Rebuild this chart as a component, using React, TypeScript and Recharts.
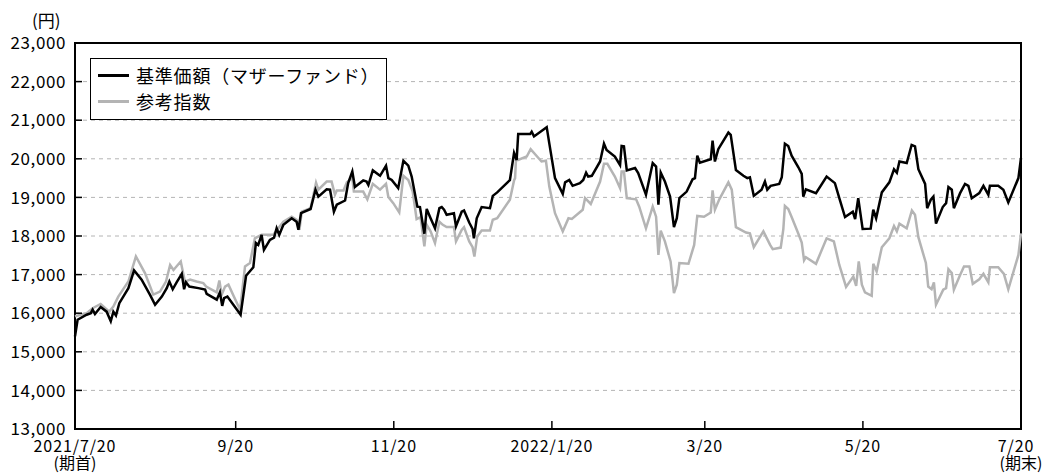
import { LineChart, Line, XAxis, YAxis, CartesianGrid, ReferenceArea } from 'recharts'

// days since 2021/7/20, values in yen
const fundDays = [0, 1, 4.5, 6.1, 6.8, 7.7, 9.9, 12.2, 13.8, 14.8, 15.8, 17.1, 20.6, 22.8, 25.7, 28.9, 30.9, 33.5, 35.4, 36.4, 37.7, 39.2, 41.2, 42.1, 42.8, 44.1, 47.6, 50.2, 50.8, 54.7, 55.9, 56.8, 57.5, 58.8, 61.1, 63.9, 66, 68.8, 69.8, 70.7, 72, 72.9, 75.2, 76.8, 77.8, 78.8, 80.4, 83.6, 85.5, 86.2, 87.2, 90.9, 92.8, 93.9, 97.1, 98.4, 99.9, 101, 104.2, 105.4, 107, 108, 111.2, 112.5, 113.2, 114.9, 117.7, 120, 120.9, 122.2, 124.7, 126.7, 128.6, 129.9, 132.1, 133.1, 134.8, 135.7, 137.2, 138.9, 140.6, 141.5, 142.4, 143.4, 146.2, 147, 149.2, 150.1, 152.1, 153.4, 153.9, 155, 156.9, 160.1, 161.2, 162.9, 167.8, 169.4, 170.4, 171, 175.6, 176.2, 177.1, 182, 183, 185.2, 188.2, 189.1, 190.7, 192, 194.8, 196.1, 197.2, 198, 199.4, 202.6, 204.1, 205.1, 208.3, 210.3, 210.9, 211.8, 212.9, 216.1, 217.3, 220.3, 222.9, 224.2, 225.1, 226, 227.6, 229.6, 231.1, 232.2, 233.2, 236, 238.3, 239.2, 240.1, 241.1, 244.3, 245.3, 246, 246.9, 248.2, 252.1, 253, 255, 257.9, 259.4, 260.4, 261.9, 264.9, 266.2, 267.1, 268.4, 271.7, 272.7, 273.9, 275.2, 276.5, 279.1, 280.4, 281, 282, 285.9, 290, 293.2, 294.9, 297.1, 300.1, 301, 302.2, 303.9, 307, 308, 309.1, 311.3, 314.2, 316, 317.1, 318.1, 320.9, 322.8, 324.1, 325.4, 328, 328.8, 330.2, 331.2, 332.2, 334.8, 336.1, 337, 338.3, 339.1, 341.5, 343.4, 344.7, 346, 348.9, 350.5, 352.4, 353, 356.2, 358.2, 360.1, 364, 365]
const fundValues = [15400, 15830, 15960, 16000, 16090, 15980, 16160, 16040, 15790, 16040, 15940, 16260, 16650, 17110, 16870, 16480, 16220, 16430, 16650, 16820, 16620, 16800, 17020, 16620, 16800, 16690, 16650, 16610, 16500, 16350, 16540, 16190, 16390, 16430, 16220, 15960, 16970, 17190, 17820, 17770, 18030, 17640, 17900, 17960, 18200, 18030, 18290, 18460, 18370, 18160, 18590, 18700, 19200, 19020, 19210, 19200, 18630, 18810, 18920, 19370, 19670, 19270, 19440, 19410, 19320, 19700, 19560, 19820, 19500, 19450, 19240, 19950, 19820, 19540, 18760, 18750, 18060, 18700, 18460, 18200, 18720, 18750, 18680, 18550, 18590, 18250, 18630, 18660, 18350, 18180, 17940, 18460, 18750, 18720, 19040, 19130, 19450, 20150, 19970, 20640, 20640, 20700, 20580, 20820, 20400, 19500, 19090, 19390, 19450, 19300, 19370, 19450, 19640, 19540, 19560, 19930, 20390, 20230, 20060, 19840, 20330, 20320, 19700, 19760, 19630, 19070, 19890, 19800, 18810, 19640, 19410, 19020, 18230, 18460, 18980, 19150, 19470, 19500, 20080, 19900, 19970, 19990, 20470, 19930, 20250, 20680, 20620, 19710, 19560, 19500, 19520, 19040, 19200, 19410, 19200, 19300, 19350, 19520, 20390, 20330, 20080, 19780, 19610, 19020, 19210, 19110, 19540, 19370, 18980, 18490, 18630, 18440, 18980, 18180, 18190, 18680, 18460, 19130, 19390, 19730, 19640, 19930, 19890, 20360, 20320, 19730, 19350, 18720, 18940, 19020, 18320, 18750, 18850, 19270, 19200, 18720, 19110, 19350, 19300, 18980, 19110, 19300, 19070, 19300, 19300, 19200, 18870, 19500, 20020]

const indexDays = [0, 4.5, 6.8, 9.9, 13.2, 14.8, 16.7, 20.6, 23.5, 27, 30.2, 32.8, 35.1, 36.7, 38, 40.8, 42.4, 44.4, 46.9, 49.5, 50.6, 54.7, 55.7, 56.6, 57.9, 59.2, 61.3, 63.7, 65.6, 67.5, 69.4, 72, 76.5, 80.4, 83.6, 85.5, 86.6, 87.5, 90.9, 93, 93.9, 97.1, 99, 100.3, 101, 103.6, 104.9, 107, 107.6, 111.2, 112.8, 114.9, 117.7, 120, 120.9, 122.8, 125.1, 126.7, 128.6, 130.3, 131.8, 133.3, 134.8, 135.7, 137.2, 138.9, 140.6, 141.9, 143.4, 146.2, 147, 149.2, 150.1, 152.1, 153.4, 154.1, 155.2, 156.9, 160.1, 161.2, 162.9, 167.8, 169.4, 169.8, 170.2, 171, 174.3, 175.8, 180, 181.7, 183, 185.2, 188.2, 190.4, 191.7, 195.9, 196.8, 199, 202.6, 204.1, 205.4, 208.3, 210.3, 210.9, 211.8, 212.9, 216.5, 217.7, 220.3, 222.9, 224.2, 225.1, 226, 227.6, 229.8, 231.1, 232.2, 233.2, 236.7, 238.9, 240.1, 242.7, 245.3, 246, 246.9, 248.6, 252.1, 253.4, 255, 258.9, 260.4, 261.9, 265.6, 268.2, 269.2, 272.3, 273.3, 273.9, 275.2, 276.5, 279.1, 280.4, 281.3, 282, 285.9, 290, 292.8, 294.9, 297.5, 300.3, 301.4, 302.4, 303.6, 304.8, 307.4, 308, 309.3, 311.3, 314.2, 316, 317.1, 318.1, 320.9, 322.9, 324.1, 325.4, 328.3, 329.2, 330.5, 331.4, 332.2, 335, 336.1, 337, 338.3, 339.1, 341.5, 343, 345.1, 346.4, 348.9, 350.5, 352.4, 353, 356.2, 358.4, 360.1, 364, 365]
const indexValues = [15920, 16000, 16130, 16240, 16040, 16170, 16430, 16820, 17470, 17040, 16480, 16560, 16820, 17250, 17120, 17340, 16820, 16870, 16820, 16780, 16690, 16540, 16850, 16480, 16690, 16740, 16430, 16090, 17210, 17300, 17940, 18030, 18030, 18370, 18500, 18420, 18160, 18630, 18720, 19380, 19200, 19410, 19410, 19070, 19180, 19180, 19390, 19500, 19150, 19150, 18950, 19350, 19200, 19350, 19010, 18850, 18610, 19560, 19450, 19150, 18440, 18490, 17730, 18290, 18120, 17820, 18370, 18290, 18230, 18230, 17860, 18160, 18230, 17860, 17710, 17470, 17990, 18140, 18140, 18420, 18460, 18940, 19440, 19500, 20060, 19970, 20060, 20250, 19930, 19950, 19280, 18590, 18120, 18460, 18440, 18680, 18980, 18830, 19410, 19870, 19870, 19540, 19240, 19670, 19670, 18980, 18950, 18760, 18200, 18760, 18500, 17510, 18140, 17860, 17340, 16520, 16740, 17300, 17280, 17770, 18520, 18500, 18610, 19180, 18680, 18950, 19390, 19200, 18230, 18090, 18070, 17710, 18120, 17770, 17660, 17700, 18180, 18780, 18700, 18490, 18060, 17830, 17370, 17450, 17280, 17940, 17860, 17250, 16680, 16950, 16710, 17340, 16740, 16540, 16450, 17280, 17080, 17710, 17940, 18260, 18120, 18320, 18200, 18660, 18550, 17970, 17300, 16690, 16620, 16800, 16220, 16610, 16650, 17140, 17040, 16610, 16990, 17210, 17210, 16760, 16880, 17020, 16800, 17190, 17190, 17020, 16620, 17510, 18070]

const xTicks = [0, 62, 123, 184, 243, 304, 365]
const xTickLabels = ['2021/7/20', '9/20', '11/20', '2022/1/20', '3/20', '5/20', '7/20']
const xTickSubLabels = ['(期首)', '', '', '', '', '', '(期末)']
const yTicks = [13000, 14000, 15000, 16000, 17000, 18000, 19000, 20000, 21000, 22000, 23000]

const seriesNames = ['基準価額（マザーファンド）', '参考指数']
const seriesColors = ['#000000', '#b4b4b4']

const FONT = '"Noto Sans CJK JP", sans-serif'

const fundData = fundDays.map((day, i) => ({ day, value: fundValues[i] }))
const indexData = indexDays.map((day, i) => ({ day, value: indexValues[i] }))

// tick mark points up into the plot, label is one text with up to two lines
const XTick = ({ x, y, payload }: any) => {
  const i = xTicks.indexOf(payload.value)
  const last = i === xTicks.length - 1
  return (
    <g>
      <line x1={x} x2={x} y1={y} y2={y - 8} stroke="#000" strokeWidth={1.5} />
      <text y={y + 23} textAnchor="middle" fontSize={16} fontFamily={FONT} fill="#000">
        <tspan x={last ? x - 5 : x} letterSpacing={0.9}>
          {xTickLabels[i]}
        </tspan>
        {xTickSubLabels[i] && (
          <tspan x={x} dy={17}>
            {xTickSubLabels[i]}
          </tspan>
        )}
      </text>
    </g>
  )
}

const YTick = ({ x, y, payload }: any) => (
  <g>
    <line x1={x} x2={x + 7} y1={y} y2={y} stroke="#000" strokeWidth={1.5} />
    <text x={x - 9} y={y} dy="0.36em" textAnchor="end" fontSize={17} letterSpacing={0.6} fontFamily={FONT} fill="#000">
      {payload.value.toLocaleString('en-US')}
    </text>
  </g>
)

const LegendBox = () => (
  <div
    style={{
      position: 'absolute',
      left: 90,
      top: 58,
      width: 297,
      height: 62,
      boxSizing: 'border-box',
      border: '1.5px solid #000',
      background: '#fff',
      fontFamily: FONT,
      fontSize: 18,
      letterSpacing: 0.8,
      paddingLeft: 7,
      paddingTop: 3,
    }}
  >
    {seriesNames.map((name, i) => (
      <div key={name} style={{ display: 'flex', alignItems: 'center', height: 26 }}>
        <span style={{ display: 'inline-block', width: 31, height: 3, background: seriesColors[i], marginRight: 7 }} />
        <span style={{ lineHeight: '26px' }}>{name}</span>
      </div>
    ))}
  </div>
)

export default function App() {
  return (
    <div style={{ position: 'absolute', left: 0, top: 0, width: 1046, height: 475, background: '#fff' }}>
      <div style={{ position: 'absolute', left: 32, top: 10, fontFamily: FONT, fontSize: 17, lineHeight: '20px' }}>
        (円)
      </div>
      <LineChart width={1046} height={475} margin={{ top: 43, right: 25, bottom: 0, left: 0 }}>
        <CartesianGrid vertical={false} stroke="#b4b4b4" strokeDasharray="4 4" />
        <XAxis
          type="number"
          dataKey="day"
          domain={[0, 365]}
          ticks={xTicks}
          interval={0}
          height={46}
          tickSize={0}
          tickMargin={0}
          axisLine={false}
          tick={<XTick />}
        />
        <YAxis
          type="number"
          domain={[13000, 23000]}
          ticks={yTicks}
          interval={0}
          width={75}
          tickSize={0}
          tickMargin={0}
          axisLine={false}
          tick={<YTick />}
        />
        <ReferenceArea x1={0} x2={365} y1={13000} y2={23000} fill="none" stroke="#000" strokeWidth={2} ifOverflow="visible" />
        <Line
          data={indexData}
          dataKey="value"
          name={seriesNames[1]}
          stroke={seriesColors[1]}
          strokeWidth={2.5}
          dot={false}
          isAnimationActive={false}
          strokeLinejoin="miter"
        />
        <Line
          data={fundData}
          dataKey="value"
          name={seriesNames[0]}
          stroke={seriesColors[0]}
          strokeWidth={2.5}
          dot={false}
          isAnimationActive={false}
          strokeLinejoin="miter"
        />
      </LineChart>
      <LegendBox />
    </div>
  )
}
